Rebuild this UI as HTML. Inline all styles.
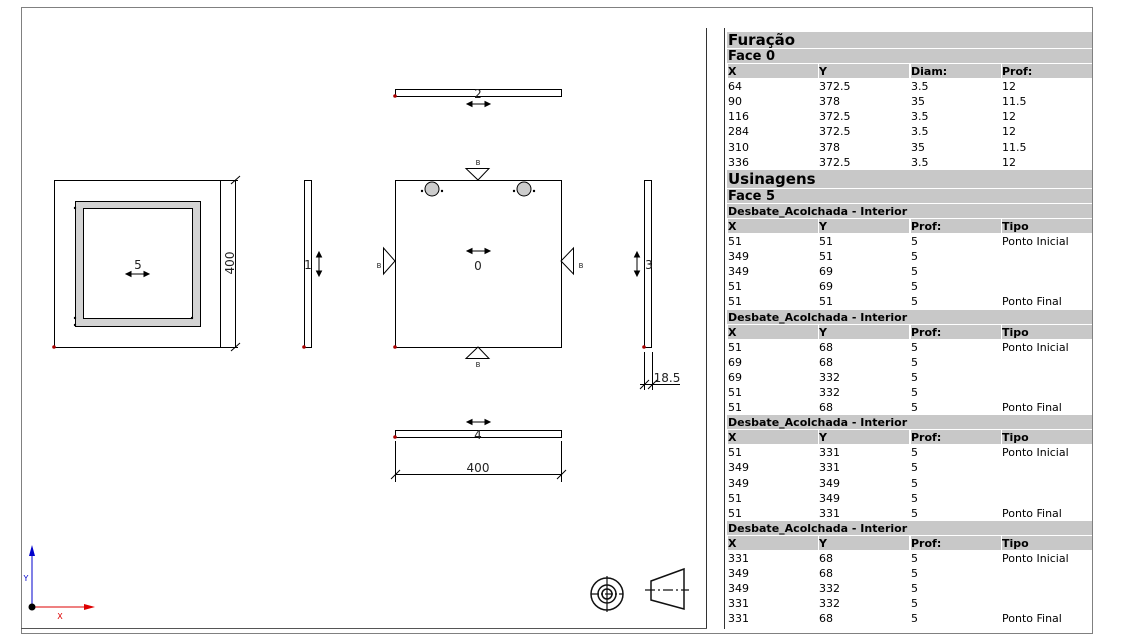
<!DOCTYPE html>
<html><head><meta charset="utf-8"><style>
body{margin:0;width:1126px;height:643px;background:#fff;position:relative;overflow:hidden;font-family:"DejaVu Sans","Liberation Sans",sans-serif}
#tbl{position:absolute;left:727px;top:32px;width:365px}
.r{height:15.1px;line-height:15px;font-size:11px;white-space:nowrap;position:relative;box-sizing:border-box}
.g{background:#c8c8c8;border-bottom:1px solid #fff;font-weight:bold}
.big{font-size:15px;height:17px;line-height:17px}
.r span{position:absolute;top:0}
.c1{left:1px}.c2{left:92px}.c3{left:184px}.c4{left:275px}
.h{font-weight:bold;height:15.1px}
.h span{background:#c8c8c8;height:14px}
.h .c1{width:90px}.h .c2{width:90px}.h .c3{width:90px}.h .c4{width:90px}
.t{padding-left:1px}
</style></head><body>
<svg width="1126" height="643" style="position:absolute;left:0;top:0" font-family="DejaVu Sans, Liberation Sans, sans-serif">
<rect x="21.5" y="7.5" width="1071" height="626" fill="none" stroke="#808080" stroke-width="1"/>
<line x1="706.5" y1="28" x2="706.5" y2="629" stroke="#333"/>
<line x1="21" y1="628.5" x2="707" y2="628.5" stroke="#555"/>
<line x1="724.5" y1="28" x2="724.5" y2="629" stroke="#333"/>
<g stroke="#000" fill="none" stroke-width="1">
<!-- face5 -->
<rect x="54.5" y="180.5" width="166" height="167"/>
<rect x="75.5" y="201.5" width="125" height="125" fill="#d3d3d3"/>
<rect x="83.5" y="208.5" width="109" height="110" fill="#fff"/>
<line x1="235.5" y1="180" x2="235.5" y2="347"/><line x1="221" y1="180.5" x2="238" y2="180.5"/><line x1="221" y1="347.5" x2="238" y2="347.5"/>
<line x1="231" y1="184" x2="240" y2="176"/><line x1="231" y1="351" x2="240" y2="343"/>
<!-- face1 -->
<rect x="304.5" y="180.5" width="7" height="167"/>
<!-- face0 -->
<rect x="395.5" y="180.5" width="166" height="167"/>
<polygon points="466,168.5 489,168.5 478,180" />
<polygon points="466,358.5 489,358.5 478,347"/>
<polygon points="383.5,248 383.5,274 395,261"/>
<polygon points="573.5,248 573.5,274 561,261"/>
<!-- face2 -->
<rect x="395.5" y="89.5" width="166" height="7"/>
<!-- face4 -->
<rect x="395.5" y="430.5" width="166" height="7"/>
<line x1="395.5" y1="441" x2="395.5" y2="482"/><line x1="561.5" y1="441" x2="561.5" y2="482"/>
<line x1="395" y1="474.5" x2="562" y2="474.5"/>
<line x1="391" y1="479" x2="400" y2="470"/><line x1="557" y1="479" x2="566" y2="470"/>
<!-- face3 -->
<rect x="644.5" y="180.5" width="7" height="167"/>
<line x1="644.5" y1="352" x2="644.5" y2="390"/><line x1="652.5" y1="352" x2="652.5" y2="390"/>
<line x1="640" y1="384.5" x2="680" y2="384.5"/>
<line x1="640" y1="389" x2="649" y2="380"/><line x1="648" y1="389" x2="657" y2="380"/>
</g>
<g fill="#ccc" stroke="#000"><circle cx="432" cy="189" r="7"/><circle cx="524" cy="189" r="7"/></g>
<g fill="#000"><circle cx="422" cy="191" r="1.2"/><circle cx="442" cy="191" r="1.2"/><circle cx="514" cy="191" r="1.2"/><circle cx="534" cy="191" r="1.2"/>
<circle cx="75" cy="208" r="1.2"/><circle cx="75" cy="318" r="1.2"/><circle cx="75" cy="325" r="1.2"/><circle cx="192" cy="318" r="1.2"/></g>
<g fill="#a00"><circle cx="54" cy="347" r="1.8"/><circle cx="304" cy="347" r="1.8"/><circle cx="395" cy="347" r="1.8"/><circle cx="395" cy="96" r="1.8"/><circle cx="395" cy="437" r="1.8"/><circle cx="644" cy="347" r="1.8"/></g>
<!-- arrows -->
<g stroke="#000" fill="#000">
<line x1="129" y1="274" x2="146" y2="274"/><polygon points="126,274 131,271.5 131,276.5"/><polygon points="149,274 144,271.5 144,276.5"/>
<line x1="470" y1="251" x2="487" y2="251"/><polygon points="467,251 472,248.5 472,253.5"/><polygon points="490,251 485,248.5 485,253.5"/>
<line x1="470" y1="104" x2="487" y2="104"/><polygon points="467,104 472,101.5 472,106.5"/><polygon points="490,104 485,101.5 485,106.5"/>
<line x1="470" y1="422" x2="487" y2="422"/><polygon points="467,422 472,419.5 472,424.5"/><polygon points="490,422 485,419.5 485,424.5"/>
<line x1="319" y1="255" x2="319" y2="273"/><polygon points="319,252 316.5,257 321.5,257"/><polygon points="319,276 316.5,271 321.5,271"/>
<line x1="637" y1="255" x2="637" y2="273"/><polygon points="637,252 634.5,257 639.5,257"/><polygon points="637,276 634.5,271 639.5,271"/>
</g>
<g font-size="12" fill="#222" text-anchor="middle">
<text x="138" y="269">5</text><text x="478" y="270">0</text><text x="478" y="98">2</text><text x="478" y="439">4</text>
<text x="308" y="269">1</text><text x="649" y="269">3</text>
<text x="478" y="472">400</text><text x="667" y="382">18.5</text>
<text transform="translate(234,263) rotate(-90)" >400</text>
</g>
<g font-size="7" fill="#222" text-anchor="middle"><text x="478" y="165">B</text><text x="478" y="367">B</text><text x="379" y="268">B</text><text x="581" y="268">B</text></g>
<!-- axes -->
<line x1="32" y1="607" x2="32" y2="553" stroke="#00c"/><polygon points="32,545 29,556 35,556" fill="#00c"/>
<line x1="32" y1="607" x2="86" y2="607" stroke="#d00"/><polygon points="95,607 84,604 84,610" fill="#d00"/>
<circle cx="32" cy="607" r="3.5" fill="#000"/>
<text x="26" y="581" font-size="8" fill="#00c" text-anchor="middle">Y</text>
<text x="60" y="619" font-size="8" fill="#d00" text-anchor="middle">X</text>
<!-- icons -->
<g stroke="#111" fill="none" stroke-width="1.5"><circle cx="607" cy="594" r="16"/><circle cx="607" cy="594" r="9"/><circle cx="607" cy="594" r="5"/>
<polygon points="651,581 684,569 684,609 651,600"/></g>
<g stroke="#111" stroke-width="1.2"><line x1="591" y1="594" x2="623" y2="594" stroke-dasharray="8,2,2,2"/><line x1="607" y1="576" x2="607" y2="612"/><line x1="645" y1="590" x2="689" y2="590" stroke-dasharray="10,3,2,3"/></g>
</svg>
<div id="tbl">
<div class="r g big t">Furação</div>
<div class="r g t" style="font-size:13px">Face 0</div>
<div class="r h"><span class="c1">X</span><span class="c2">Y</span><span class="c3">Diam:</span><span class="c4">Prof:</span></div>
<div class="r"><span class="c1">64</span><span class="c2">372.5</span><span class="c3">3.5</span><span class="c4">12</span></div>
<div class="r"><span class="c1">90</span><span class="c2">378</span><span class="c3">35</span><span class="c4">11.5</span></div>
<div class="r"><span class="c1">116</span><span class="c2">372.5</span><span class="c3">3.5</span><span class="c4">12</span></div>
<div class="r"><span class="c1">284</span><span class="c2">372.5</span><span class="c3">3.5</span><span class="c4">12</span></div>
<div class="r"><span class="c1">310</span><span class="c2">378</span><span class="c3">35</span><span class="c4">11.5</span></div>
<div class="r"><span class="c1">336</span><span class="c2">372.5</span><span class="c3">3.5</span><span class="c4">12</span></div>
<div class="r g big t" style="height:19px;line-height:19px">Usinagens</div>
<div class="r g t" style="font-size:13px">Face 5</div>
<div class="r g t">Desbate_Acolchada - Interior</div>
<div class="r h"><span class="c1">X</span><span class="c2">Y</span><span class="c3">Prof:</span><span class="c4">Tipo</span></div>
<div class="r"><span class="c1">51</span><span class="c2">51</span><span class="c3">5</span><span class="c4">Ponto Inicial</span></div>
<div class="r"><span class="c1">349</span><span class="c2">51</span><span class="c3">5</span></div>
<div class="r"><span class="c1">349</span><span class="c2">69</span><span class="c3">5</span></div>
<div class="r"><span class="c1">51</span><span class="c2">69</span><span class="c3">5</span></div>
<div class="r"><span class="c1">51</span><span class="c2">51</span><span class="c3">5</span><span class="c4">Ponto Final</span></div>
<div class="r g t">Desbate_Acolchada - Interior</div>
<div class="r h"><span class="c1">X</span><span class="c2">Y</span><span class="c3">Prof:</span><span class="c4">Tipo</span></div>
<div class="r"><span class="c1">51</span><span class="c2">68</span><span class="c3">5</span><span class="c4">Ponto Inicial</span></div>
<div class="r"><span class="c1">69</span><span class="c2">68</span><span class="c3">5</span></div>
<div class="r"><span class="c1">69</span><span class="c2">332</span><span class="c3">5</span></div>
<div class="r"><span class="c1">51</span><span class="c2">332</span><span class="c3">5</span></div>
<div class="r"><span class="c1">51</span><span class="c2">68</span><span class="c3">5</span><span class="c4">Ponto Final</span></div>
<div class="r g t">Desbate_Acolchada - Interior</div>
<div class="r h"><span class="c1">X</span><span class="c2">Y</span><span class="c3">Prof:</span><span class="c4">Tipo</span></div>
<div class="r"><span class="c1">51</span><span class="c2">331</span><span class="c3">5</span><span class="c4">Ponto Inicial</span></div>
<div class="r"><span class="c1">349</span><span class="c2">331</span><span class="c3">5</span></div>
<div class="r"><span class="c1">349</span><span class="c2">349</span><span class="c3">5</span></div>
<div class="r"><span class="c1">51</span><span class="c2">349</span><span class="c3">5</span></div>
<div class="r"><span class="c1">51</span><span class="c2">331</span><span class="c3">5</span><span class="c4">Ponto Final</span></div>
<div class="r g t">Desbate_Acolchada - Interior</div>
<div class="r h"><span class="c1">X</span><span class="c2">Y</span><span class="c3">Prof:</span><span class="c4">Tipo</span></div>
<div class="r"><span class="c1">331</span><span class="c2">68</span><span class="c3">5</span><span class="c4">Ponto Inicial</span></div>
<div class="r"><span class="c1">349</span><span class="c2">68</span><span class="c3">5</span></div>
<div class="r"><span class="c1">349</span><span class="c2">332</span><span class="c3">5</span></div>
<div class="r"><span class="c1">331</span><span class="c2">332</span><span class="c3">5</span></div>
<div class="r"><span class="c1">331</span><span class="c2">68</span><span class="c3">5</span><span class="c4">Ponto Final</span></div>
</div>
</body></html>
